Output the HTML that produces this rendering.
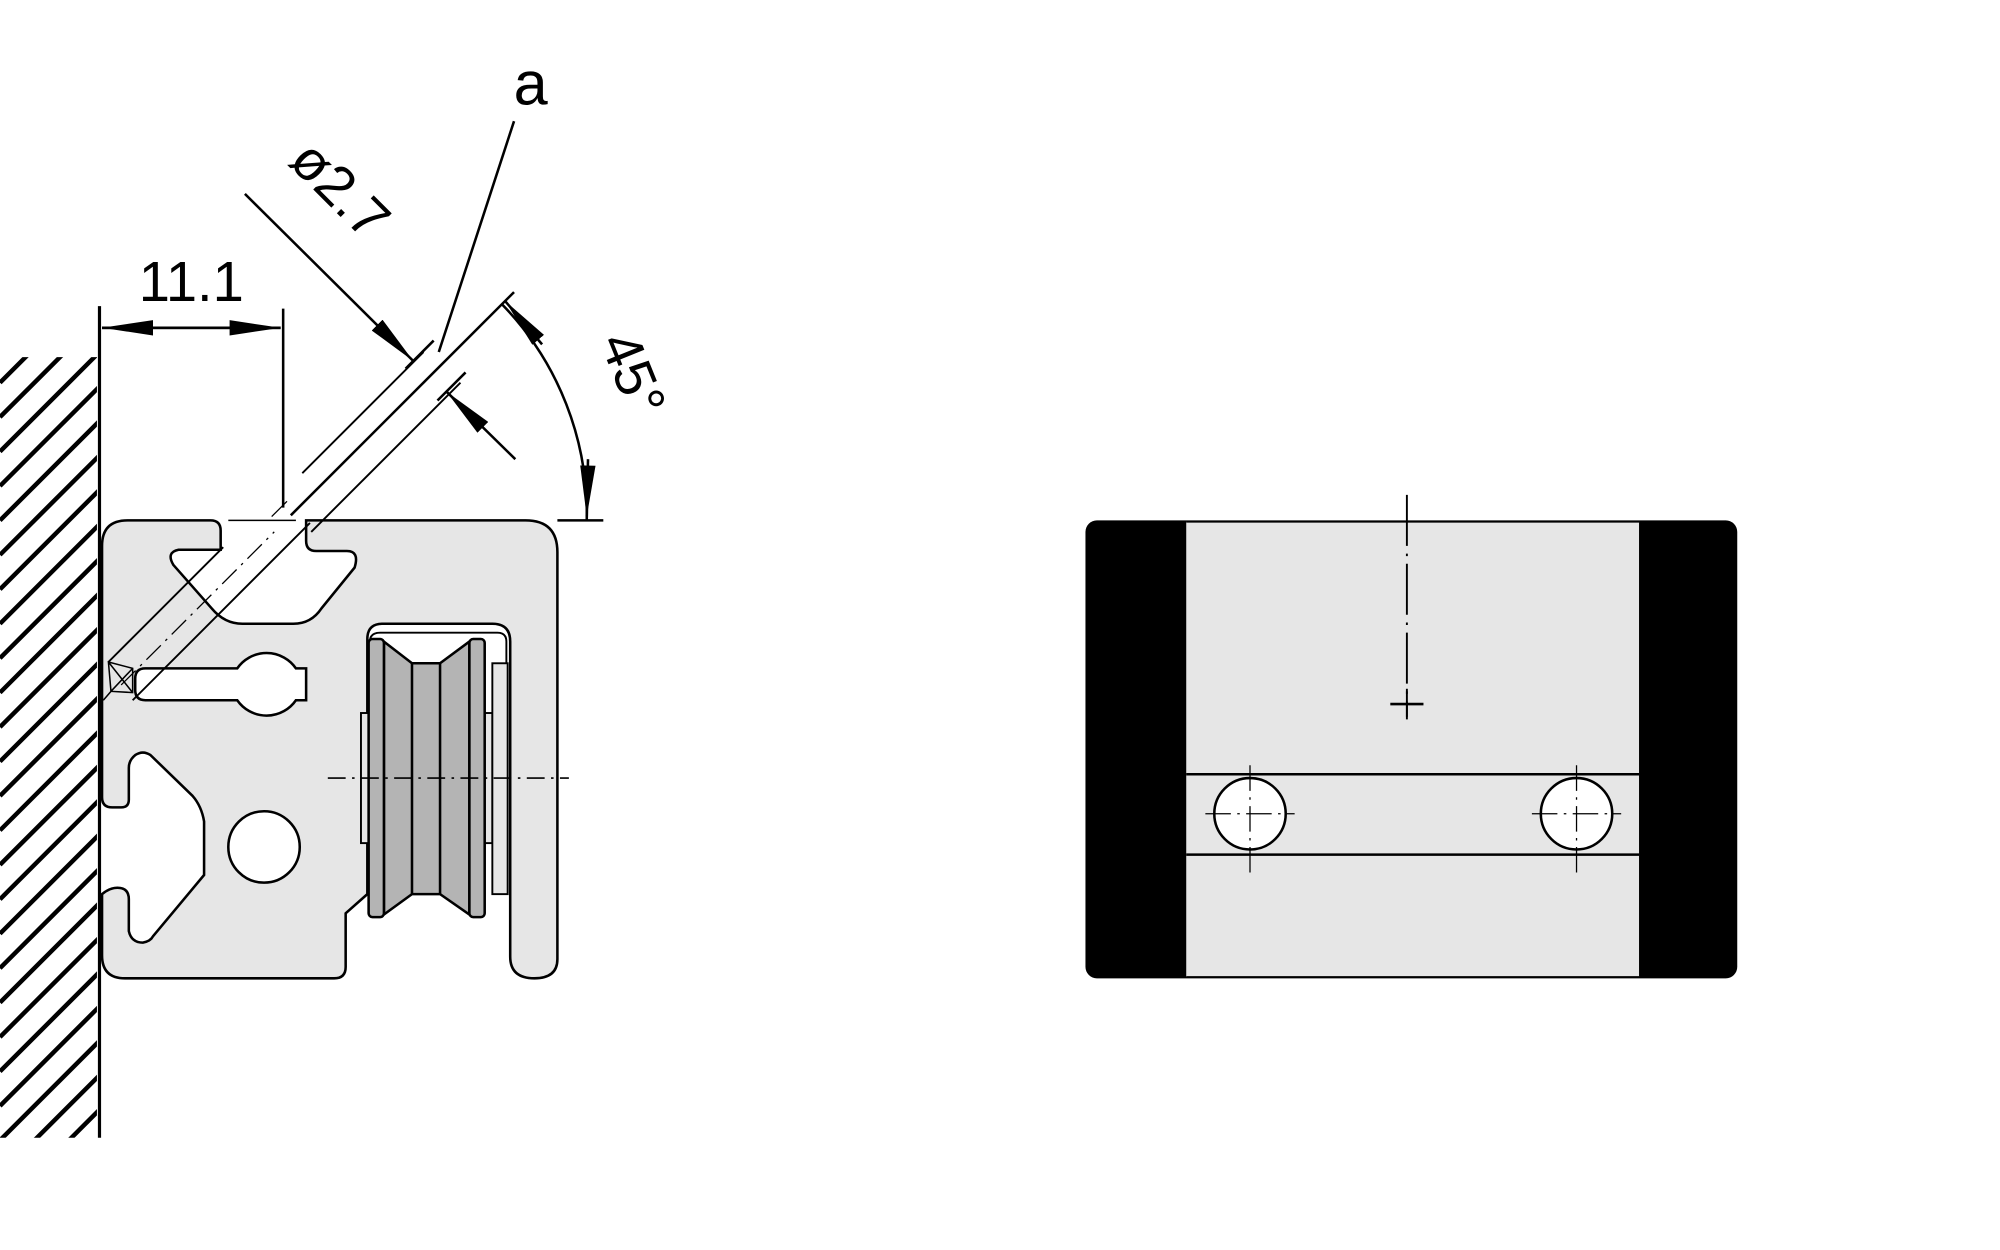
<!DOCTYPE html>
<html><head><meta charset="utf-8"><style>
html,body{margin:0;padding:0;background:#fff;}
svg{display:block;}
text{font-family:"Liberation Sans Narrow","Liberation Sans",sans-serif;fill:#000;}
</style></head><body>
<svg width="2000" height="1250" viewBox="0 0 1568 980" xmlns="http://www.w3.org/2000/svg">
<defs>
<clipPath id="hc"><rect x="0" y="280" width="76" height="612"/></clipPath>
<marker id="ar" viewBox="0 0 40 12" refX="40" refY="6" markerWidth="40" markerHeight="12" markerUnits="userSpaceOnUse" orient="auto"><path d="M0,0 L40,6 L0,12 Z" fill="#000"/></marker>
</defs>
<rect width="1568" height="980" fill="#fff"/>
<!-- hatching -->
<g clip-path="url(#hc)" stroke="#000" stroke-width="3.5">
<line x1="0" y1="300" x2="90" y2="210"/><line x1="0" y1="327" x2="90" y2="237"/><line x1="0" y1="354" x2="90" y2="264"/><line x1="0" y1="381" x2="90" y2="291"/><line x1="0" y1="408" x2="90" y2="318"/><line x1="0" y1="435" x2="90" y2="345"/><line x1="0" y1="462" x2="90" y2="372"/><line x1="0" y1="489" x2="90" y2="399"/><line x1="0" y1="516" x2="90" y2="426"/><line x1="0" y1="543" x2="90" y2="453"/><line x1="0" y1="570" x2="90" y2="480"/><line x1="0" y1="597" x2="90" y2="507"/><line x1="0" y1="624" x2="90" y2="534"/><line x1="0" y1="651" x2="90" y2="561"/><line x1="0" y1="678" x2="90" y2="588"/><line x1="0" y1="705" x2="90" y2="615"/><line x1="0" y1="732" x2="90" y2="642"/><line x1="0" y1="759" x2="90" y2="669"/><line x1="0" y1="786" x2="90" y2="696"/><line x1="0" y1="813" x2="90" y2="723"/><line x1="0" y1="840" x2="90" y2="750"/><line x1="0" y1="867" x2="90" y2="777"/><line x1="0" y1="894" x2="90" y2="804"/><line x1="0" y1="921" x2="90" y2="831"/><line x1="0" y1="948" x2="90" y2="858"/><line x1="0" y1="975" x2="90" y2="885"/>
</g>
<line x1="78" y1="240" x2="78" y2="892" stroke="#000" stroke-width="2.5"/>
<!-- profile -->
<path d="M100,408 H165 Q173,408 173,416 V431 H140 Q130,433 136,443 L166,477 Q176,489 190,489 H230 Q244,489 252,477 L278,445 Q282,432 272,432 H248 Q240,432 240,424 V408 H412 Q437,408 437,433 V752 Q437,767 419,767 Q400,767 400,750 V503 Q400,489 386,489 H300 Q288,489 288,501 V701 L271,716 V758 Q271,767 262,767 H98 Q80,767 80,749 V701 Q86,696 92,696 Q101,696 101,705 V730 Q103,739 112,739 Q118,738 120,734 L160,686 V644 Q158,632 151,624 L118,592 Q112,588 106,592 Q101,596 101,602 V627 Q101,633 95,633 H88 Q80,633 80,625 V428 Q80,408 100,408 Z" fill="#e6e6e6" stroke="#000" stroke-width="2"/>
<!-- keyhole -->
<path d="M114,524 H186 A28,28 0 0 1 232,524 H240 V549 H232 A28,28 0 0 1 186,549 H114 Q106,549 106,541 V532 Q106,524 114,524 Z" fill="#fff" stroke="#000" stroke-width="2"/>
<circle cx="207" cy="664" r="28" fill="#fff" stroke="#000" stroke-width="2"/>
<!-- bracket -->
<path d="M290,701 V503 Q290,496 298,496 H390 Q397,496 397,503 V520" fill="none" stroke="#000" stroke-width="1.5"/>
<rect x="283" y="559" width="6" height="102" fill="#e6e6e6" stroke="#000" stroke-width="1.5"/>
<rect x="379" y="559" width="7" height="102" fill="#e6e6e6" stroke="#000" stroke-width="1.5"/>
<rect x="386" y="520" width="12" height="181" fill="#e6e6e6" stroke="#000" stroke-width="1.5"/>
<!-- roller -->
<path d="M301,503 L323,520 H345 L368,503 V717 L345,701 H323 L301,717 Z" fill="#b4b4b4" stroke="#000" stroke-width="2"/>
<rect x="289" y="501" width="12" height="218" rx="3" fill="#b4b4b4" stroke="#000" stroke-width="2"/>
<rect x="368" y="501" width="12" height="218" rx="3" fill="#b4b4b4" stroke="#000" stroke-width="2"/>
<line x1="323" y1="520" x2="323" y2="701" stroke="#000" stroke-width="2"/>
<line x1="345" y1="520" x2="345" y2="701" stroke="#000" stroke-width="2"/>
<line x1="257" y1="610" x2="446" y2="610" stroke="#000" stroke-width="1.2" stroke-dasharray="14,5,2,5"/>
<!-- drill hole -->
<line x1="85" y1="519" x2="175" y2="429" stroke="#000" stroke-width="1.5"/>
<line x1="104" y1="549" x2="243" y2="410" stroke="#000" stroke-width="1.5"/>
<line x1="244" y1="417" x2="361" y2="300" stroke="#000" stroke-width="1.5"/>
<line x1="237" y1="371" x2="332" y2="276" stroke="#000" stroke-width="1.5"/>
<line x1="95" y1="537" x2="215" y2="417" stroke="#000" stroke-width="1" stroke-dasharray="16,5,2,5"/>
<line x1="213" y1="405" x2="225" y2="393" stroke="#000" stroke-width="1"/>
<path d="M85,519 L104,524 L104,543 L87,542 Z M85,519 L104,543 M104,524 L87,542 M87,542 L81,549" fill="none" stroke="#000" stroke-width="1.2"/>
<line x1="179" y1="408" x2="232" y2="408" stroke="#000" stroke-width="1.2"/>
<!-- 11.1 dim -->
<line x1="222" y1="242" x2="222" y2="398" stroke="#000" stroke-width="2"/>
<line x1="80" y1="257" x2="220" y2="257" stroke="#000" stroke-width="2" marker-end="url(#ar)"/>
<line x1="220" y1="257" x2="80" y2="257" stroke="#000" stroke-width="2" marker-end="url(#ar)"/>
<text x="150" y="236" font-size="44" text-anchor="middle">11.1</text>
<!-- 45 ref line -->
<line x1="228" y1="404" x2="403" y2="229" stroke="#000" stroke-width="2"/>
<line x1="437" y1="408" x2="473" y2="408" stroke="#000" stroke-width="2"/>
<path d="M394,239 A235,235 0 0 1 460,408" fill="none" stroke="#000" stroke-width="2"/>
<line x1="425" y1="270" x2="396" y2="236" stroke="#000" stroke-width="2" marker-end="url(#ar)"/>
<line x1="461" y1="360" x2="460" y2="405" stroke="#000" stroke-width="2" marker-end="url(#ar)"/>
<text x="0" y="0" font-size="44" transform="translate(470,268) rotate(68)">45°</text>
<!-- ø2.7 -->
<line x1="192" y1="152" x2="324" y2="283" stroke="#000" stroke-width="2" marker-end="url(#ar)"/>
<line x1="404" y1="360" x2="350" y2="307" stroke="#000" stroke-width="2" marker-end="url(#ar)"/>
<line x1="318" y1="289" x2="340" y2="267" stroke="#000" stroke-width="2"/>
<line x1="343" y1="314" x2="365" y2="292" stroke="#000" stroke-width="2"/>
<text x="0" y="0" font-size="44" transform="translate(225,128) rotate(45)">ø2.7</text>
<!-- a -->
<line x1="403" y1="95" x2="344" y2="276" stroke="#000" stroke-width="2"/>
<text x="416" y="82" font-size="48" text-anchor="middle">a</text>
<!-- right view -->
<rect x="851" y="408" width="511" height="359" rx="9" fill="#000"/>
<rect x="930" y="409" width="355" height="357" fill="#e6e6e6"/>
<line x1="930" y1="409" x2="1285" y2="409" stroke="#000" stroke-width="1.5"/>
<line x1="930" y1="766" x2="1285" y2="766" stroke="#000" stroke-width="1.5"/>
<line x1="930" y1="607" x2="1285" y2="607" stroke="#000" stroke-width="2"/>
<line x1="930" y1="670" x2="1285" y2="670" stroke="#000" stroke-width="2"/>
<circle cx="980" cy="638" r="28" fill="#fff" stroke="#000" stroke-width="2"/>
<circle cx="1236" cy="638" r="28" fill="#fff" stroke="#000" stroke-width="2"/>
<g stroke="#000" stroke-width="1">
<line x1="945" y1="638" x2="1015" y2="638" stroke-dasharray="20,5,2,5"/>
<line x1="980" y1="600" x2="980" y2="685" stroke-dasharray="20,5,2,5"/>
<line x1="1201" y1="638" x2="1271" y2="638" stroke-dasharray="20,5,2,5"/>
<line x1="1236" y1="600" x2="1236" y2="685" stroke-dasharray="20,5,2,5"/>
<line x1="1103" y1="388" x2="1103" y2="562" stroke-width="1.5" stroke-dasharray="40,6,2,6"/>
<line x1="1090" y1="552" x2="1116" y2="552" stroke-width="2"/>
<line x1="1103" y1="540" x2="1103" y2="564" stroke-width="1.5"/>
</g>
</svg>
</body></html>
